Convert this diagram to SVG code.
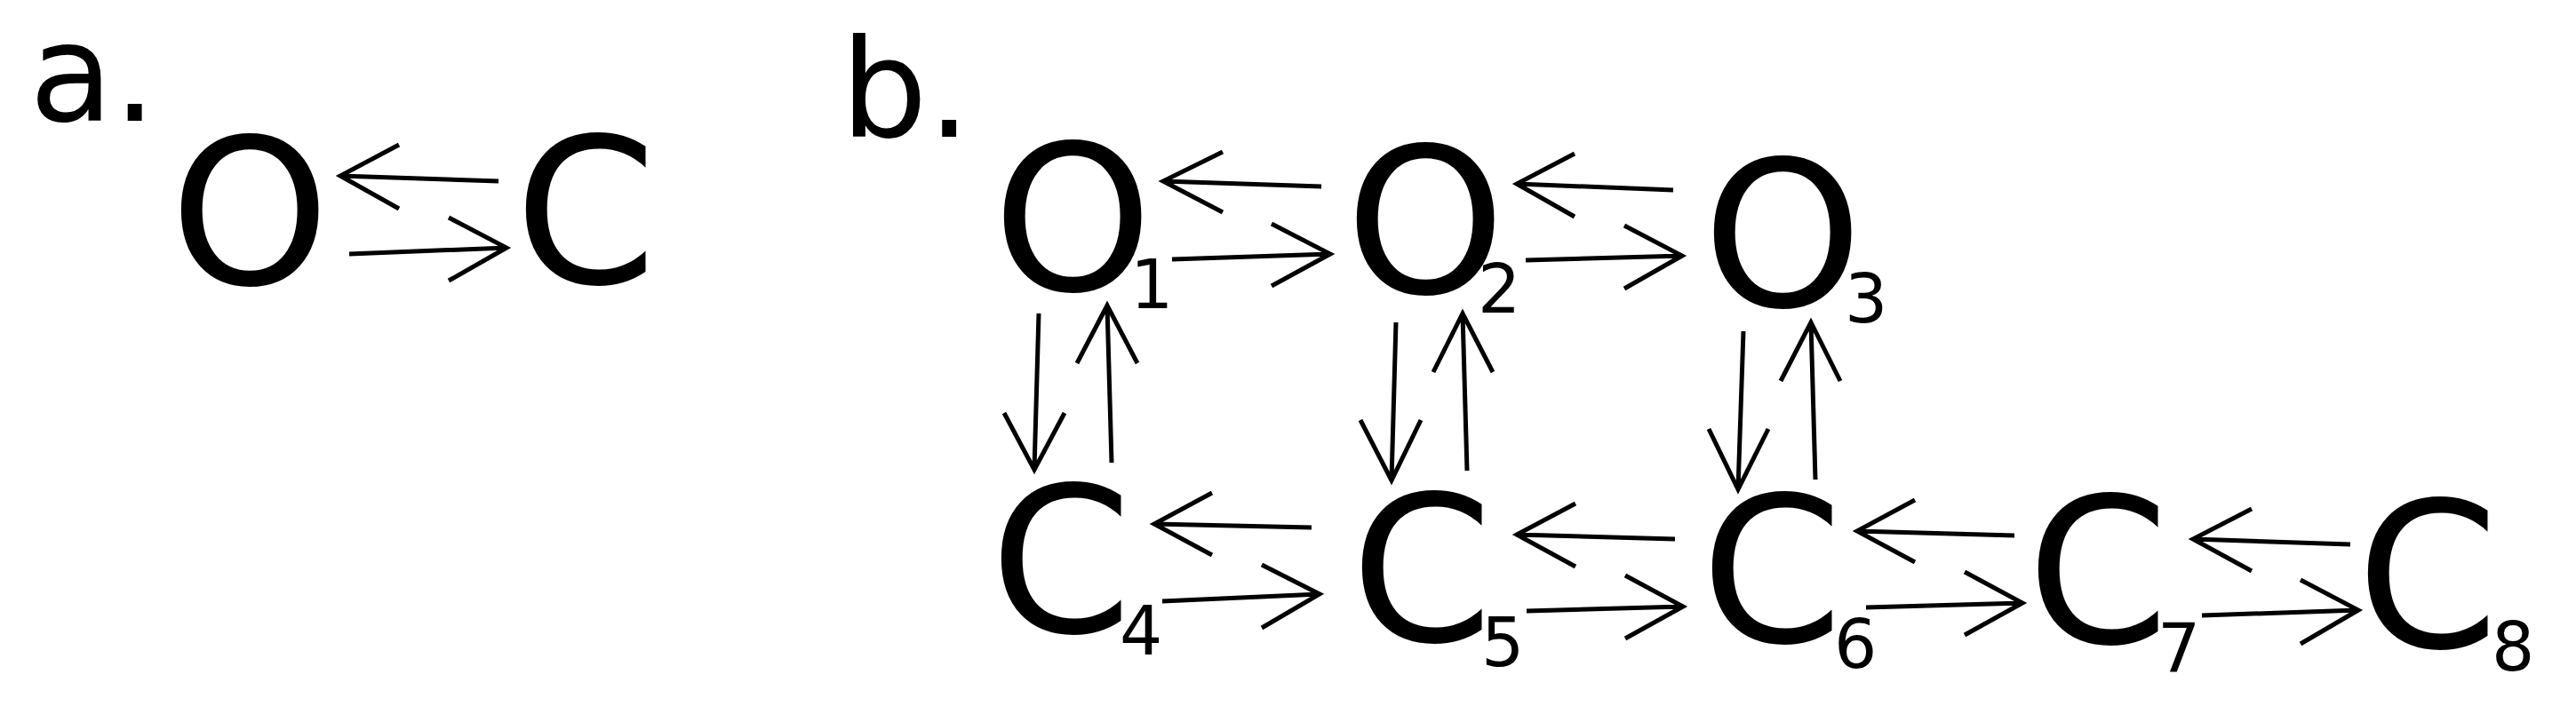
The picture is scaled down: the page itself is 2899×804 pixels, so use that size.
<svg xmlns="http://www.w3.org/2000/svg" width="2899" height="804" viewBox="0 0 2899 804">
<style>
.lbl{font-family:"DejaVu Sans",sans-serif;font-size:154px;fill:#000}
.big{font-family:"DejaVu Sans",sans-serif;font-size:229px;fill:#000}
.sub{font-family:"DejaVu Sans",sans-serif;font-size:76px;fill:#000}
.arr{fill:none;stroke:#000;stroke-width:5;stroke-linecap:butt;stroke-linejoin:miter}
</style>
<rect width="2899" height="804" fill="#fff"/>
<text class="lbl" x="33" y="136">a.</text>
<text class="lbl" x="946" y="154">b.</text>
<g id="a_O"><text class="big" x="191" y="320">O</text></g>
<g id="a_C"><text class="big" x="579" y="319">C</text></g>
<g id="O1"><text class="big" x="1117" y="327">O</text><text class="sub" x="1272" y="347">1</text></g>
<g id="O2"><text class="big" x="1514" y="330">O</text><text class="sub" x="1663" y="352">2</text></g>
<g id="O3"><text class="big" x="1916" y="345">O</text><text class="sub" x="2076" y="363">3</text></g>
<g id="C4"><text class="big" x="1114" y="712">C</text><text class="sub" x="1260" y="737">4</text></g>
<g id="C5"><text class="big" x="1520" y="722">C</text><text class="sub" x="1667" y="750">5</text></g>
<g id="C6"><text class="big" x="1914" y="723">C</text><text class="sub" x="2064" y="752">6</text></g>
<g id="C7"><text class="big" x="2281" y="724">C</text><text class="sub" x="2428" y="757">7</text></g>
<g id="C8"><text class="big" x="2652" y="729">C</text><text class="sub" x="2804" y="755">8</text></g>
<g id="connectors">
<path class="arr" d="M561 204L383 198M449 163L383 198L449 235"/>
<path class="arr" d="M393 286L570 279M505 245L570 279L505 316"/>
<path class="arr" d="M1487 210L1309 204M1376 171L1309 204L1376 239"/>
<path class="arr" d="M1319 292L1497 286M1431 252L1497 286L1431 322"/>
<path class="arr" d="M1883 214L1707 207M1772 173L1707 207L1772 244"/>
<path class="arr" d="M1717 293L1893 288M1828 254L1893 288L1828 325"/>
<path class="arr" d="M1169 353L1164 529M1130 465L1164 529L1198 465"/>
<path class="arr" d="M1251 521L1246 344M1212 409L1246 344L1280 409"/>
<path class="arr" d="M1571 363L1566 541M1531 473L1566 541L1599 473"/>
<path class="arr" d="M1651 530L1646 353M1613 419L1646 353L1680 419"/>
<path class="arr" d="M1962 373L1956 551M1923 483L1956 551L1990 483"/>
<path class="arr" d="M2043 540L2038 363M2004 429L2038 363L2071 429"/>
<path class="arr" d="M1476 594L1299 590M1364 555L1299 590L1364 625"/>
<path class="arr" d="M1308 677L1485 669M1420 636L1485 669L1420 707"/>
<path class="arr" d="M1885 607L1707 602M1773 567L1707 602L1773 638"/>
<path class="arr" d="M1718 688L1894 683M1829 648L1894 683L1829 719"/>
<path class="arr" d="M2267 603L2090 598M2155 563L2090 598L2155 633"/>
<path class="arr" d="M2100 684L2276 679M2211 644L2276 679L2211 715"/>
<path class="arr" d="M2645 613L2468 607M2534 573L2468 607L2534 643"/>
<path class="arr" d="M2478 693L2654 687M2589 653L2654 687L2589 725"/>
</g>
</svg>
